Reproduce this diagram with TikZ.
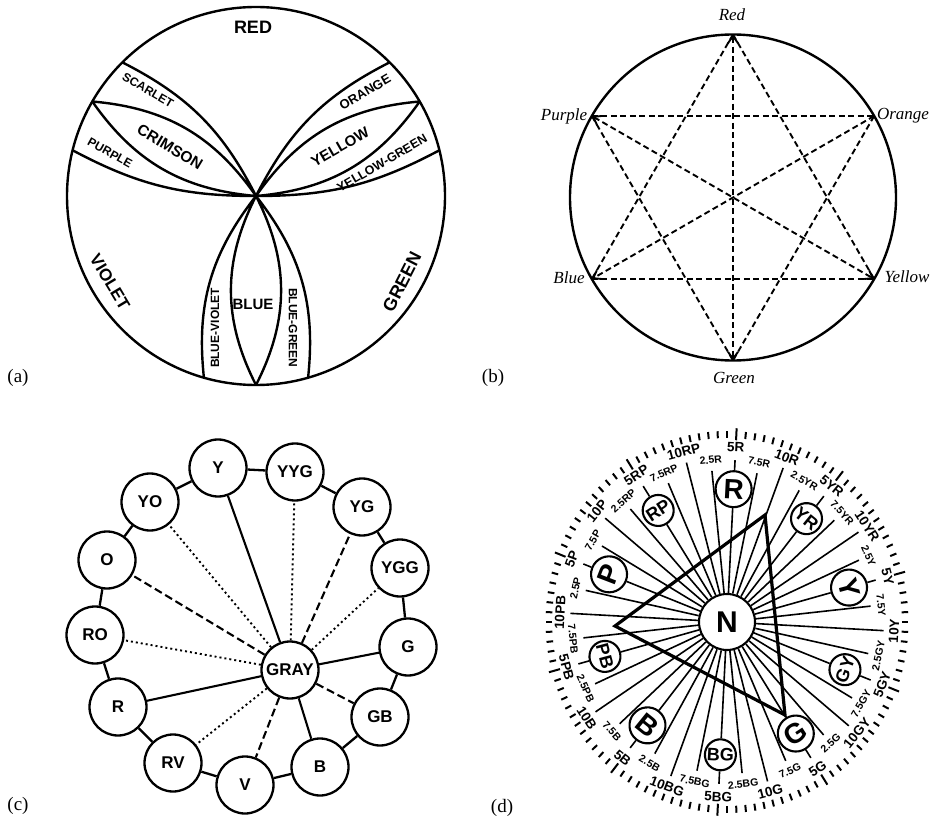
\documentclass[tikz,border=0pt]{standalone}
\usepackage{fontspec}
\setmainfont{Liberation Serif}
\setsansfont{Liberation Sans}
\usetikzlibrary{arrows.meta,calc}
\newcommand\fsz[1]{\fontsize{#1}{#1}\selectfont}
\begin{document}
\begin{tikzpicture}[x=1pt,y=1pt,
  ln/.style={line width=2.4pt},
  alab/.style={font={\sffamily\bfseries\fsz{#1}}, inner sep=0pt},
  blab/.style={font={\itshape\fsz{17}}, inner sep=0pt},
  plab/.style={font={\fsz{19}}, inner sep=0pt},
  dsh/.style={line width=1.9pt, dash pattern=on 6pt off 3.5pt},
  cn/.style={draw, circle, line width=2.3pt, minimum size=57pt, inner sep=0pt, font={\sffamily\bfseries\fsz{17}}},
  ring/.style={line width=2.3pt},
  solidsp/.style={line width=2.1pt},
  dashsp/.style={line width=2.1pt, dash pattern=on 8pt off 4pt},
  dotsp/.style={line width=1.9pt, dash pattern=on 2pt off 3pt},
  spoke/.style={line width=1.6pt},
  hc/.style={draw, circle, line width=2.1pt, inner sep=0pt},
  dl/.style={font={\sffamily\bfseries\fsz{#1}}, inner sep=0pt},
  tickmk/.style={line width=2pt},
  >={Straight Barb[length=7pt,width=10pt]}
]
\useasboundingbox (0,0) rectangle (938,-826);

% ---------------- (a) ----------------
\coordinate (Ca) at (256,-196);
\draw[ln] (Ca) circle[radius=189];
\foreach \n/\a in {A1/135,A2/150,A3/166,B1/45,B2/30,B3/14,D1/254,D2/270,D3/286}
  \coordinate (\n) at ($(Ca)+(\a:189)$);
\draw[ln] (Ca) to[bend right=18] (A1)
          (Ca) to[bend right=25] (A2)
          (Ca) to[bend left=25] (A2)
          (Ca) to[bend left=14] (A3);
\draw[ln] (Ca) to[bend left=18] (B1)
          (Ca) to[bend right=25] (B2)
          (Ca) to[bend left=25] (B2)
          (Ca) to[bend right=14] (B3);
\draw[ln] (Ca) to[bend right=22] (D1)
          (Ca) to[bend right=27] (D2)
          (Ca) to[bend left=27] (D2)
          (Ca) to[bend left=22] (D3);
\node[alab=18] (tRed) at (253,-27) {RED};
\node[alab=12,rotate=-30] (tScar) at (148,-90) {SCARLET};
\node[alab=15.5,rotate=-31] (tCrim) at (170,-147) {CRIMSON};
\node[alab=12,rotate=-29] (tPurp) at (110,-153) {PURPLE};
\node[alab=13,rotate=30] (tOra) at (365,-92) {ORANGE};
\node[alab=15,rotate=30] (tYel) at (340,-147) {YELLOW};
\node[alab=12.5,rotate=30] (tYG) at (382,-163) {YELLOW-GREEN};
\node[alab=15] (tBlue) at (253,-304) {BLUE};
\node[alab=12,rotate=90] (tBV) at (215,-328) {BLUE-VIOLET};
\node[alab=12,rotate=-90] (tBGr) at (293,-328) {BLUE-GREEN};
\node[alab=17,rotate=-59] (tVio) at (110,-282) {VIOLET};
\node[alab=18,rotate=63] (tGre) at (402,-282) {GREEN};
\node[plab] (pa) at (18,-378) {(a)};

% ---------------- (b) ----------------
\coordinate (Ob) at (733,-197.5);
\draw[ln] (Ob) circle[radius=163];
\foreach \n/\a in {bRed/90,bOrange/30,bYellow/-30,bGreen/-90,bBlue/210,bPurple/150}
  \coordinate (\n) at ($(Ob)+(\a:163)$);
\draw[dsh] (bRed) -- (bBlue);
\draw[dsh] (bRed) -- (bYellow);
\draw[dsh] (bBlue) -- (bYellow);
\draw[dsh] (bPurple) -- (bOrange);
\draw[dsh] (bPurple) -- (bGreen);
\draw[dsh] (bOrange) -- (bGreen);
\draw[dsh,<->] (bRed) -- (bGreen);
\draw[dsh,<->] (bPurple) -- (bYellow);
\draw[dsh,->] (bOrange) -- (bBlue);
\node[blab] (lRed) at (732,-15) {Red};
\node[blab] (lPurple) at (564,-116) {Purple};
\node[blab] (lOrange) at (903,-116) {Orange};
\node[blab] (lBlue) at (569,-278) {Blue};
\node[blab] (lYellow) at (907,-277) {Yellow};
\node[blab] (lGreen) at (734,-378) {Green};
\node[plab] (pb) at (493,-378) {(b)};

% ---------------- (c) ----------------
\node[cn] (cY) at (218,-468) {Y};
\node[cn] (cYYG) at (295,-472) {YYG};
\node[cn] (cYO) at (150,-502) {YO};
\node[cn] (cYG) at (362,-507) {YG};
\node[cn] (cO) at (107,-560) {O};
\node[cn] (cYGG) at (400,-568) {YGG};
\node[cn] (cRO) at (95,-635) {RO};
\node[cn] (cG) at (408,-647) {G};
\node[cn] (cGRAY) at (290,-670) {GRAY};
\node[cn] (cR) at (118,-707) {R};
\node[cn] (cGB) at (380,-717) {GB};
\node[cn] (cRV) at (173,-763) {RV};
\node[cn] (cB) at (320,-767) {B};
\node[cn] (cV) at (245,-785) {V};
\draw[ring] (cY) -- (cYYG) (cYYG) -- (cYG) (cYG) -- (cYGG) (cYGG) -- (cG)
  (cG) -- (cGB) (cGB) -- (cB) (cB) -- (cV) (cV) -- (cRV) (cRV) -- (cR)
  (cR) -- (cRO) (cRO) -- (cO) (cO) -- (cYO) (cYO) -- (cY);
\draw[solidsp] (cGRAY) -- (cY) (cGRAY) -- (cG) (cGRAY) -- (cB) (cGRAY) -- (cR);
\draw[dashsp] (cGRAY) -- (cYG);
\draw[dashsp] (cGRAY) -- (cGB);
\draw[dashsp] (cGRAY) -- (cV);
\draw[dashsp] (cGRAY) -- (cO);
\draw[dotsp] (cGRAY) -- (cYYG);
\draw[dotsp] (cGRAY) -- (cYGG);
\draw[dotsp] (cGRAY) -- (cRV);
\draw[dotsp] (cGRAY) -- (cRO);
\draw[dotsp] (cGRAY) -- (cYO);
\node[plab] (pc) at (18,-806) {(c)};

% ---------------- (d) ----------------
\begin{scope}[shift={(727,-622)}, x=0.95pt]
  \node[hc, minimum size=56pt, font={\sffamily\bfseries\fsz{30}}] (N) at (0,0) {N};
  \foreach \j in {0,...,119}{
    \pgfmathsetmacro\ph{87-3*\j}
    \pgfmathtruncatemacro\mm{mod(\j,12)}
    \ifnum\mm=0
      \draw[tickmk] (\ph:182) -- (\ph:194);
    \else
      \draw[tickmk] (\ph:184) -- (\ph:191);
    \fi
  }
  \foreach \k/\lab in {1/7.5R,2/10R,3/2.5YR,5/7.5YR,6/10YR,7/2.5Y,9/7.5Y,10/10Y,11/2.5GY,13/7.5GY,14/10GY,15/2.5G,17/7.5G,18/10G,19/2.5BG,21/7.5BG,22/10BG,23/2.5B,25/7.5B,26/10B,27/2.5PB,29/7.5PB,30/10PB,31/2.5P,33/7.5P,34/10P,35/2.5RP,37/7.5RP,38/10RP,39/2.5R}{
    \pgfmathsetmacro\th{87-9*\k}
    \pgfmathsetmacro\rot{ifthenelse(and(\k>9,\k<30),\th+90,\th-90)}
    \pgfmathtruncatemacro\m{mod(\k,2)}
    \ifnum\m=0
      \draw[spoke] (N) -- (\th:165);
      \node[dl=13.5,rotate=\rot] (l\k) at (\th:176) {\lab};
    \else
      \draw[spoke] (N) -- (\th:152);
      \node[dl=10.5,rotate=\rot] (l\k) at (\th:163) {\lab};
    \fi
  }
  \foreach \k/\h/\lab/\hs/\hr in {0/R/5R/28/36pt,4/YR/5YR/18/31pt,8/Y/5Y/28/36pt,12/GY/5GY/18/31pt,16/G/5G/28/36pt,20/BG/5BG/18/31pt,24/B/5B/28/36pt,28/PB/5PB/18/31pt,32/P/5P/28/36pt,36/RP/5RP/18/31pt}{
    \pgfmathsetmacro\th{87-9*\k}
    \pgfmathsetmacro\rot{ifthenelse(and(\k>9,\k<30),\th+90,\th-90)}
    \node[hc, minimum size=\hr, font={\sffamily\bfseries\fsz{\hs}}, rotate=\rot] (h\k) at (\th:133) {\h};
    \draw[spoke] (N) -- (h\k);
    \draw[spoke] (h\k) -- (\th:162);
    \node[dl=13.5,rotate=\rot] (l\k) at (\th:175) {\lab};
  }
\end{scope}
\coordinate (t1) at (765,-515);
\coordinate (t2) at (615,-626);
\coordinate (t3) at (785,-715);
\draw[line width=3.2pt, line join=miter] (t1) -- (t2) -- (t3) -- cycle;
\node[plab] (pd) at (502,-808) {(d)};
\end{tikzpicture}
\end{document}
